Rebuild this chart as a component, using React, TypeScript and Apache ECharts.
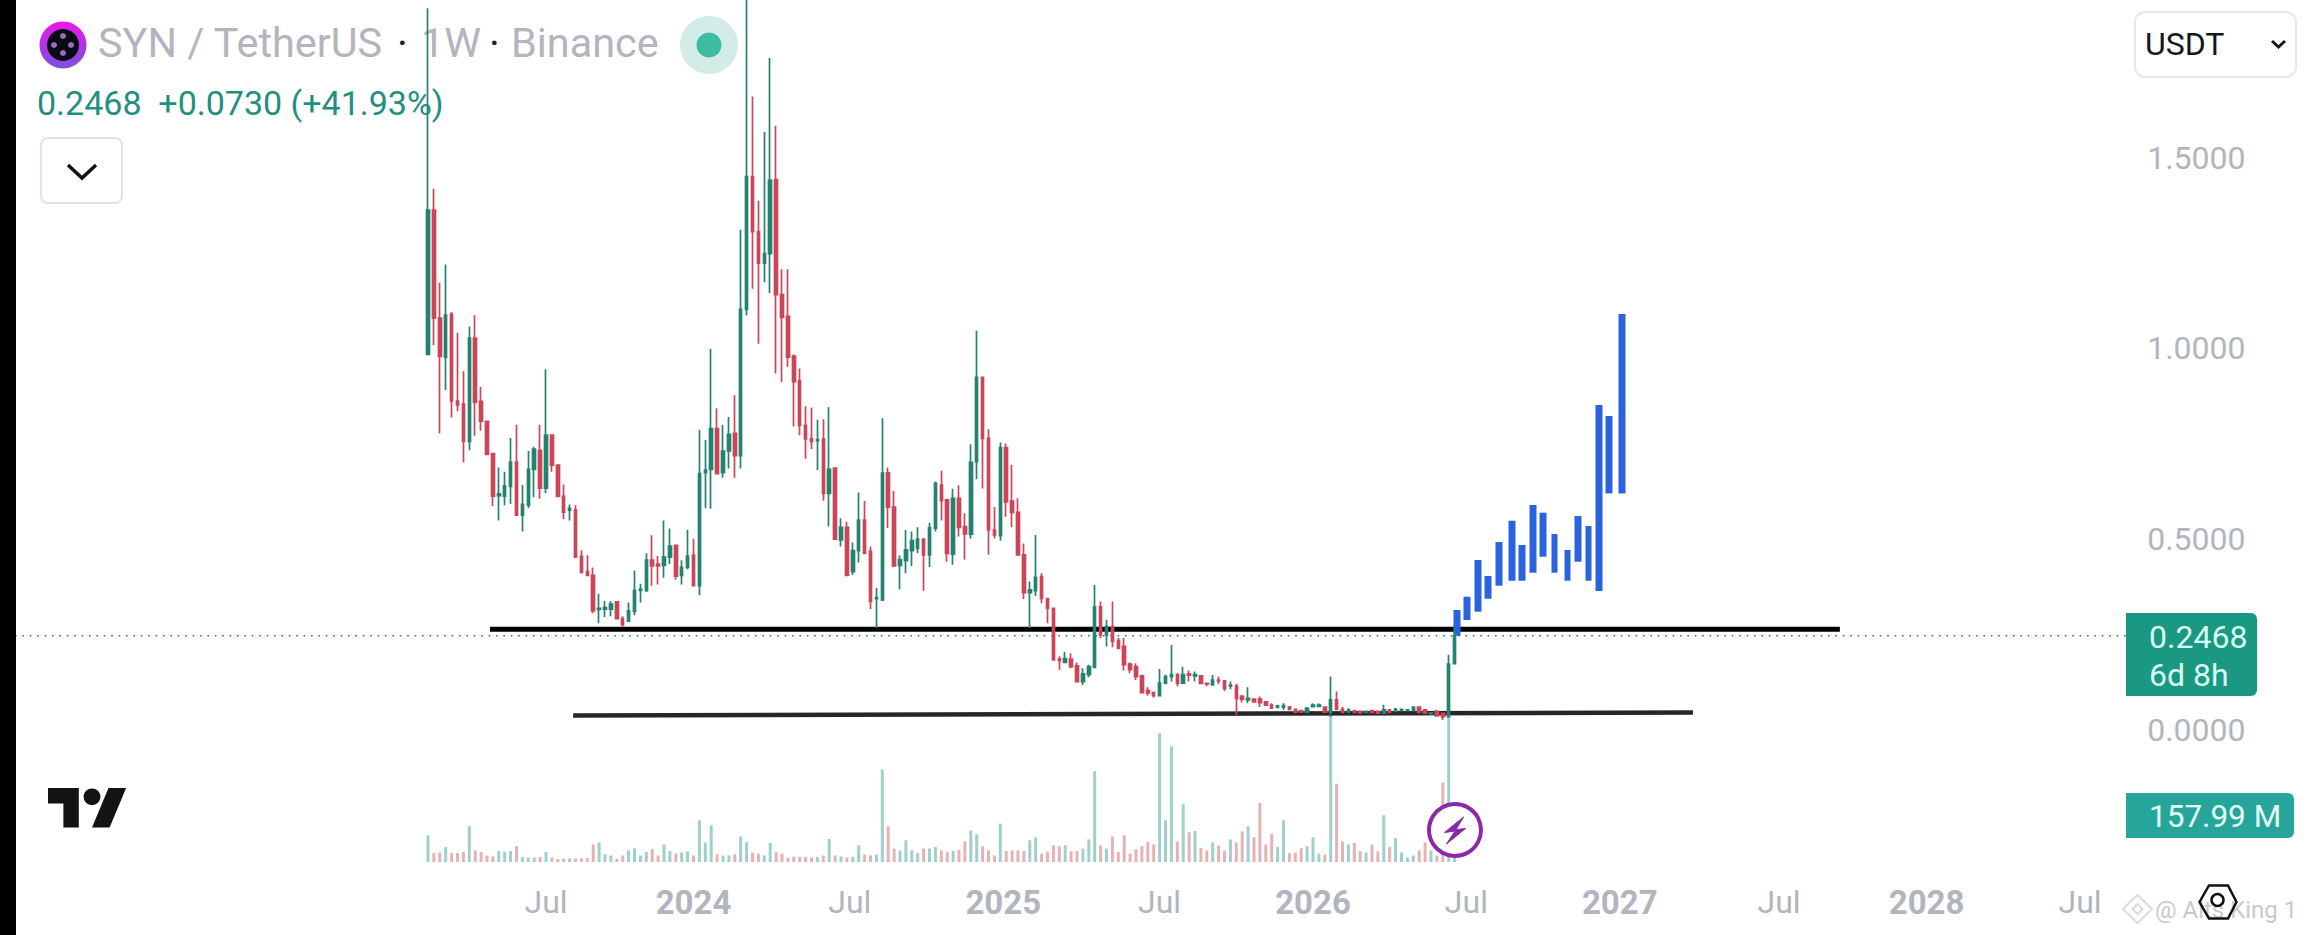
import React, { useEffect, useRef } from "react";
import * as echarts from "echarts";

// weekly candles: [open, close, low, high]
const weeklyCandles: number[][] = [
[.984,1.362,.984,1.891],[1.362,1.079,1.009,1.418],[1.079,.979,.777,1.172],[.977,1.087,.891,1.220],[1.089,.862,.819,1.095],
[.862,.852,.835,1.041],[.854,.756,.701,.940],[.756,1.027,.733,1.057],[1.027,.859,.771,1.087],[.861,.809,.784,.899],
[.809,.722,.722,.811],[.724,.613,.587,.726],[.614,.619,.549,.688],[.613,.640,.589,.677],[.638,.702,.592,.765],
[.702,.563,.563,.800],[.563,.591,.520,.642],[.589,.683,.581,.731],[.683,.736,.610,.742],[.733,.634,.606,.800],
[.634,.773,.621,.945],[.773,.694,.677,.773],[.694,.612,.612,.694],[.612,.571,.552,.643],[.576,.581,.549,.591],
[.576,.453,.453,.589],[.455,.413,.410,.471],[.415,.405,.405,.458],[.405,.312,.306,.426],[.316,.319,.280,.357],
[.317,.321,.296,.338],[.317,.330,.298,.338],[.336,.292,.290,.338],[.292,.276,.271,.298],[.285,.312,.285,.334],
[.311,.365,.301,.418],[.366,.369,.334,.383],[.365,.445,.362,.463],[.445,.430,.378,.510],[.435,.430,.381,.456],
[.431,.453,.399,.549],[.453,.482,.435,.528],[.484,.403,.394,.485],[.405,.426,.381,.445],[.426,.456,.421,.525],
[.458,.378,.378,.501],[.378,.672,.353,.787],[.674,.681,.581,.760],[.683,.790,.580,.998],[.790,.672,.672,.843],
[.674,.731,.661,.800],[.731,.775,.685,.820],[.777,.719,.661,.877],[.719,1.102,.685,1.311],[1.102,1.450,1.087,1.980],
[1.450,1.306,1.156,1.660],[1.306,1.223,1.012,1.387],[1.223,1.248,1.173,1.567],[1.248,1.440,1.145,1.761],[1.442,1.141,.934,1.583],
[1.141,1.081,.912,1.207],[1.084,.977,.952,1.207],[.980,.913,.795,.984],[.915,.798,.772,.947],[.798,.763,.711,.848],
[.763,.756,.736,.845],[.758,.761,.681,.813],[.762,.620,.601,.814],[.620,.683,.533,.846],[.686,.500,.500,.688],
[.498,.531,.481,.555],[.531,.406,.402,.546],[.415,.470,.406,.491],[.470,.550,.439,.622],[.550,.463,.461,.600],
[.468,.337,.317,.481],[.344,.347,.267,.372],[.341,.673,.338,.817],[.674,.584,.529,.688],[.584,.430,.427,.626],
[.431,.446,.369,.457],[.444,.472,.411,.524],[.470,.496,.430,.520],[.476,.500,.463,.531],[.500,.459,.365,.502],
[.459,.530,.427,.543],[.529,.646,.520,.651],[.642,.601,.549,.679],[.603,.463,.441,.606],[.461,.607,.433,.632],
[.607,.531,.507,.641],[.533,.514,.447,.568],[.513,.701,.502,.749],[.703,.924,.657,1.046],[.924,.764,.633,.926],
[.764,.524,.459,.788],[.524,.511,.502,.584],[.509,.740,.496,.753],[.740,.598,.559,.751],[.600,.570,.531,.695],
[.570,.459,.459,.607],[.459,.360,.343,.489],[.360,.367,.267,.389],[.365,.400,.351,.511],[.402,.345,.332,.411],
[.344,.319,.280,.345],[.319,.184,.184,.319],[.186,.182,.158,.193],[.177,.187,.175,.205],[.186,.166,.162,.201],
[.168,.127,.127,.177],[.127,.147,.118,.162],[.145,.166,.138,.171],[.164,.322,.164,.380],[.323,.249,.241,.337],
[.249,.271,.219,.289],[.271,.232,.217,.337],[.234,.214,.212,.241],[.219,.171,.156,.241],[.173,.158,.149,.177],
[.166,.140,.131,.175],[.142,.098,.098,.145],[.103,.097,.090,.112],[.098,.090,.085,.101],[.090,.123,.088,.160],
[.123,.140,.120,.145],[.140,.145,.127,.223],[.145,.123,.114,.149],[.123,.145,.121,.166],[.147,.144,.127,.156],
[.142,.145,.127,.153],[.142,.122,.121,.143],[.122,.121,.115,.124],[.118,.131,.117,.144],[.131,.129,.120,.140],
[.129,.109,.102,.131],[.115,.118,.107,.127],[.115,.083,.039,.121],[.088,.081,.072,.092],[.079,.083,.070,.112],
[.081,.074,.072,.083],[.081,.072,.060,.088],[.074,.065,.064,.074],[.065,.057,.055,.070],[.059,.063,.057,.066],
[.060,.064,.053,.070],[.061,.054,.053,.063],[.054,.046,.046,.055],[.051,.047,.046,.053],[.047,.057,.046,.060],
[.061,.065,.060,.070],[.062,.065,.061,.070],[.060,.047,.046,.061],[.047,.079,.035,.140],[.079,.054,.053,.101],
[.054,.046,.044,.061],[.047,.053,.046,.057],[.051,.046,.044,.053],[.049,.045,.044,.051],[.046,.049,.044,.051],
[.051,.046,.044,.053],[.049,.044,.042,.051],[.044,.053,.042,.066],[.053,.046,.046,.054],[.049,.054,.047,.058],
[.051,.054,.050,.056],[.051,.053,.050,.054],[.051,.060,.050,.061],[.060,.046,.044,.061],[.053,.044,.042,.054],
[.042,.045,.040,.046],[.048,.037,.035,.053],[.044,.035,.026,.046],[.035,.173,.035,.197],[.174,.2468,.174,.266],
];

const volumesM: number[] = [
90,30,32,50,30,30,34,120,39,34,22,19,37,35,37,53,17,15,15,17,34,15,10,11,12,
12,12,13,59,66,26,22,11,22,39,46,22,34,43,22,59,37,28,32,36,22,140,66,123,26,
22,22,26,86,67,32,28,22,64,34,28,15,18,17,17,15,17,22,77,22,19,15,17,56,25,
22,25,311,120,45,39,73,39,30,45,45,50,39,34,37,41,69,106,93,53,39,22,129,37,39,
39,37,73,82,28,34,56,53,56,36,37,45,76,305,56,45,86,34,90,28,43,53,67,59,433,
140,389,69,194,100,104,47,39,66,55,39,76,66,103,120,83,198,59,95,50,140,30,32,46,53,
83,28,25,504,263,69,59,64,36,32,59,36,157,50,80,32,15,22,39,66,39,22,267,494,158,
];

// drawn blue projection: week position, top, bottom
const projectedWeeks = [174.4,176.1,178,179.7,181.5,183.7,185.4,187.3,189,190.9,193.1,194.9,196.7,198.5,200.2,202.4];
const projectedTops = [.3144,.3493,.4454,.4035,.4925,.5484,.4847,.5895,.5694,.5135,.4716,.5606,.5345,.8515,.8227,1.0899];
const projectedBottoms = [.2468,.2882,.3100,.3441,.3781,.3912,.3912,.4122,.4541,.4122,.3912,.4410,.3912,.3641,.6200,.6200];

const supportUpper = [[10.5,.2637],[239.3,.2637]];
const supportLower = [[24.6,.0383],[214.4,.0458]];
const lastPrice = 0.2468;

const priceTicks = [0,0.5,1,1.5];
const timeTickWeeks = [20,45,71.5,97.5,124,150,176,202,229,254,280];
const timeTickLabels = ["Jul","2024","Jul","2025","Jul","2026","Jul","2027","Jul","2028","Jul"];

const GREEN = "#23836f";
const RED = "#cb4658";
const GREY = "#b2b5be";
const FONT = "Roboto, sans-serif";

echarts.graphic.registerShape(
  "tvT",
  echarts.graphic.extendPath("M14 22H7V11H0V4h14v18zM28 22h-8l7.5-18h8L28 22z" as any, {}) as any,
);

function buildOption(): any {
  const up = weeklyCandles.map((c) => c[1] >= c[0]);
  const text = (x: number, y: number, t: string, size: number, fill: string, extra: any = {}) => ({
    type: "text", x, y, z: extra.z ?? 1,
    style: { text: t, fontSize: size, fontFamily: FONT, fill, verticalAlign: "middle", ...extra },
  });
  return {
    animation: false,
    backgroundColor: "#ffffff",
    grid: { left: 15, top: 0, width: 2112.2, height: 862, containLabel: false },
    xAxis: {
      type: "value", min: -70, max: 288,
      axisLine: { show: false }, axisTick: { show: false }, splitLine: { show: false },
      axisLabel: {
        customValues: timeTickWeeks, margin: 24, fontFamily: FONT,
        formatter: (v: number) => {
          const l = timeTickLabels[timeTickWeeks.indexOf(v)] ?? "";
          return l === "Jul" ? `{r|${l}}` : `{b|${l}}`;
        },
        rich: {
          r: { fontSize: 32, color: GREY, fontFamily: FONT },
          b: { fontSize: 33, color: GREY, fontFamily: FONT, fontWeight: "bold" },
        },
      },
    },
    yAxis: [
      {
        type: "value", position: "right", min: -0.3458, max: 1.9127,
        axisLine: { show: false }, axisTick: { show: false }, splitLine: { show: false },
        axisLabel: {
          customValues: priceTicks, margin: 20, align: "left",
          fontFamily: FONT, fontSize: 32, color: GREY,
          formatter: (v: number) => v.toFixed(4),
        },
      },
      { type: "value", min: 0, max: 2896, show: false },
    ],
    series: [
      {
        type: "bar", name: "Volume", yAxisIndex: 1, barWidth: 3, z: 1, silent: true,
        data: volumesM.map((v, i) => ({
          value: [i, v],
          itemStyle: { color: up[i] ? "#9fd0ca" : "#e6b3b3" },
        })),
      },
      {
        type: "line", name: "Last", data: [[-70, lastPrice], [288, lastPrice]], symbol: "none", z: 2, silent: true,
        lineStyle: { color: "#2a7f70", width: 1.6, type: [1.6, 5.8] },
      },
      {
        type: "line", name: "Upper", data: supportUpper, symbol: "none", z: 2, silent: true,
        lineStyle: { color: "#000000", width: 5 },
      },
      {
        type: "line", name: "Lower", data: supportLower, symbol: "none", z: 2, silent: true,
        lineStyle: { color: "#262626", width: 4.5 },
      },
      {
        type: "candlestick", name: "Projection", z: 3, barWidth: 7, silent: true,
        encode: { x: 0, y: [1, 2, 3, 4] },
        data: projectedWeeks.map((w, i) => [w, projectedBottoms[i], projectedTops[i], projectedBottoms[i], projectedTops[i]]),
        itemStyle: { color: "#2b62e0", color0: "#2b62e0", borderColor: "#2b62e0", borderColor0: "#2b62e0", borderWidth: 0 },
      },
      {
        type: "candlestick", name: "SYN", z: 4, barWidth: 3, silent: true,
        encode: { x: 0, y: [1, 2, 3, 4] },
        data: weeklyCandles.map((c, i) => [i, c[0], c[1], c[2], c[3]]),
        itemStyle: { color: GREEN, color0: RED, borderColor: GREEN, borderColor0: RED, borderWidth: 1.7 },
      },
    ],
    graphic: [
      { type: "rect", z: 20, shape: { x: 0, y: 0, width: 16, height: 935 }, style: { fill: "#000" } },
      // header
      { type: "circle", shape: { cx: 63, cy: 45, r: 23.5 }, style: { fill: new echarts.graphic.LinearGradient(0, 0, 0, 1, [{ offset: 0, color: "#ea17e8" }, { offset: 1, color: "#7b52dd" }]) } },
      { type: "circle", shape: { cx: 63, cy: 45, r: 16 }, style: { fill: "#0b0b16" } },
      { type: "circle", shape: { cx: 63, cy: 36, r: 3 }, style: { fill: "#9b6fb8" } },
      { type: "circle", shape: { cx: 54, cy: 45, r: 3 }, style: { fill: "#9b6fb8" } },
      { type: "circle", shape: { cx: 71, cy: 45, r: 3 }, style: { fill: "#9b6fb8" } },
      { type: "circle", shape: { cx: 63, cy: 53, r: 3 }, style: { fill: "#9b6fb8" } },
      text(98, 43, "SYN / TetherUS", 41.4, GREY),
      text(397, 43, "·", 41.4, "#222"),
      text(421, 43, "1W", 41.4, GREY),
      text(489, 43, "·", 41.4, "#222"),
      text(511, 43, "Binance", 41.4, GREY),
      text(37, 103, "0.2468  +0.0730 (+41.93%)", 34, "#1f9080"),
      { type: "circle", shape: { cx: 709, cy: 45, r: 29 }, style: { fill: "#d4ece8" } },
      { type: "circle", shape: { cx: 709, cy: 45, r: 12.5 }, style: { fill: "#3dbba3" } },
      { type: "rect", shape: { x: 41, y: 138, width: 81, height: 65, r: 7 }, style: { fill: "#fff", stroke: "#e0e3eb", lineWidth: 2 } },
      { type: "polyline", shape: { points: [[68, 165], [82, 178], [96, 165]] }, style: { fill: "none", stroke: "#111", lineWidth: 3.5 } },
      // currency selector
      { type: "rect", shape: { x: 2135, y: 12, width: 161, height: 65, r: 10 }, style: { fill: "#fff", stroke: "#e6e8ee", lineWidth: 2 } },
      text(2145, 44, "USDT", 32, "#131722"),
      { type: "polyline", shape: { points: [[2272, 41], [2278.5, 47], [2285, 41]] }, style: { fill: "none", stroke: "#131722", lineWidth: 3 } },
      // TradingView mark
      { type: "tvT", x: 48, y: 779.2, scaleX: 2.2, scaleY: 2.2, style: { fill: "#131313" } },
      { type: "circle", shape: { cx: 92, cy: 796.8, r: 8.4 }, style: { fill: "#131313" } },
      // price pills
      { type: "rect", z: 5, shape: { x: 2126, y: 613, width: 131, height: 83, r: [0, 6, 6, 0] }, style: { fill: "#1a9882" } },
      text(2149, 637, "0.2468", 32, "#d9fff5", { z: 6 }),
      text(2149, 675, "6d 8h", 32, "#d9fff5", { z: 6 }),
      { type: "rect", z: 5, shape: { x: 2126, y: 793, width: 168, height: 45, r: [0, 6, 6, 0] }, style: { fill: "#26a69a" } },
      text(2149, 816, "157.99 M", 31.5, "#e6fff9", { z: 6 }),
      // lightning badge
      { type: "circle", z: 10, shape: { cx: 1455, cy: 830, r: 26 }, style: { fill: "#fff", stroke: "#8b2aa8", lineWidth: 4 } },
      { type: "polygon", z: 11, shape: { points: [[1463.5, 817], [1444.5, 832.5], [1455, 831], [1446.5, 844], [1465.5, 828.5], [1456, 829.5]] }, style: { fill: "#8b2aa8", stroke: "#8b2aa8", lineWidth: 1 } },
      // watermark
      { type: "polygon", shape: { points: [[2137.5, 895], [2152, 909], [2137.5, 923], [2123, 909]] }, style: { fill: "none", stroke: "#dcdcdc", lineWidth: 2 } },
      { type: "polygon", shape: { points: [[2137.5, 904], [2142.5, 909], [2137.5, 914], [2132.5, 909]] }, style: { fill: "none", stroke: "#dcdcdc", lineWidth: 2 } },
      text(2155, 910, "@ Alts King 1", 24, "#c9c9c9"),
      { type: "polygon", z: 7, shape: { points: [[2199.5, 902], [2209, 885.5], [2228, 885.5], [2236.5, 902], [2228, 918.5], [2209, 918.5]] }, style: { fill: "none", stroke: "#111", lineWidth: 2.5 } },
      { type: "circle", z: 7, shape: { cx: 2217.5, cy: 900, r: 6 }, style: { fill: "none", stroke: "#111", lineWidth: 2.5 } },
    ],
  };
}

export default function App() {
  const ref = useRef<HTMLDivElement>(null);
  useEffect(() => {
    document.body.style.margin = "0";
    const chart = echarts.init(ref.current!, undefined, { renderer: "svg" });
    chart.setOption(buildOption());
    return () => chart.dispose();
  }, []);
  return <div ref={ref} style={{ width: 2308, height: 935 }} />;
}
